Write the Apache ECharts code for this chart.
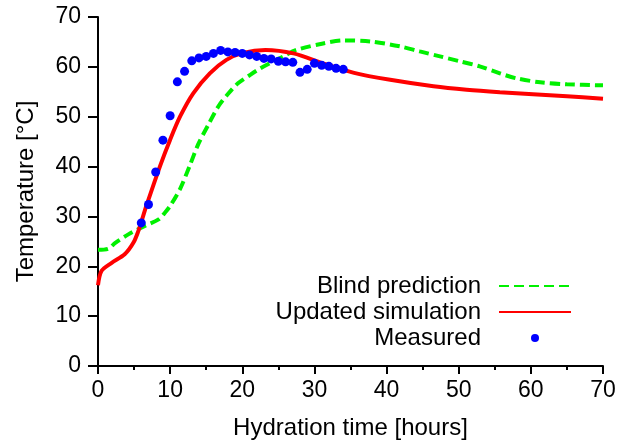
<!DOCTYPE html>
<html><head><meta charset="utf-8">
<script src="https://cdn.jsdelivr.net/npm/echarts@6/dist/echarts.min.js"></script>
<style>html,body{margin:0;padding:0;background:#fff}#c{width:622px;height:445px}</style>
</head><body><div id="c"></div>
<script>
const blindX = [0, 1.4, 2.4, 4.2, 6.5, 8.4, 9.3, 10.0, 11.4, 12.75, 13.9, 15.3, 16.7, 18.1, 19.4, 21.1, 22.5, 23.8, 25.7, 27.5, 31.2, 34, 37.7, 41.9, 44.6, 47.4, 50.2, 52.9, 55.7, 58, 61.3, 65, 70];
const blindY = [23.3, 23.5, 24.7, 26.4, 28.1, 29.4, 30.8, 32.1, 35.6, 40.3, 44.5, 48.4, 52.1, 54.7, 56.7, 58.4, 59.7, 60.7, 62.1, 63.4, 64.7, 65.3, 65.1, 64.1, 63.1, 62.1, 61.1, 60.1, 58.7, 57.7, 56.9, 56.5, 56.3];
const updX = [0, 0.5, 1.9, 3.7, 4.9, 5.6, 6.05, 6.7, 8.6, 10, 11.4, 13.2, 15.5, 17.8, 20.1, 23.2, 27.1, 31.2, 35.5, 40.5, 46.5, 51.1, 55.7, 60.3, 65, 70];
const updY = [16.2, 19.1, 20.7, 22.4, 24.7, 27.1, 29.1, 32.1, 40.1, 45.4, 50.1, 54.7, 58.7, 61.4, 62.8, 63.4, 62.7, 60.7, 58.8, 57.4, 56.1, 55.4, 54.9, 54.5, 54.1, 53.6];
const measX = [6,7,8,9,10,11,12,13,14,15,16,17,18,19,20,21,22,23,24,25,26,27,28,29,30,31,32,33,34];
const measY = [28.7,32.4,38.9,45.3,50.2,57.0,59.1,61.2,61.8,62.1,62.7,63.3,63.0,62.9,62.7,62.4,62.1,61.7,61.6,61.1,61.0,60.9,58.9,59.5,60.7,60.3,60.1,59.7,59.5];
const seriesNames = ['Blind prediction', 'Updated simulation', 'Measured'];
const xTitle = 'Hydration time [hours]';
const yTitle = 'Temperature [°C]';

const zip = (xs, ys) => xs.map((x, i) => [x, ys[i]]);
const font = 'Liberation Sans, Arial, sans-serif';
const green = '#00f000', red = '#ff0000', blue = '#0000ff';
const chart = echarts.init(document.getElementById('c'));
chart.setOption({
  animation: false,
  grid: {left: 98, right: 19, top: 17, bottom: 78},
  legend: {
    orient: 'vertical', align: 'right', right: 50, top: 273, padding: 0,
    itemWidth: 72, itemHeight: 8, itemGap: 0,
    textStyle: {fontFamily: font, fontSize: 24, color: '#000', lineHeight: 26, padding: [0, 13, 0, 0]},
    data: [
      {name: seriesNames[0], itemStyle: {opacity: 0}},
      {name: seriesNames[1], itemStyle: {opacity: 0}},
      {name: seriesNames[2], icon: 'circle'}
    ]
  },
  xAxis: {
    type: 'value', min: 0, max: 70, interval: 10,
    name: xTitle, nameLocation: 'middle', nameGap: 50,
    nameTextStyle: {fontFamily: font, fontSize: 24, color: '#000'},
    axisLine: {lineStyle: {color: '#000', width: 2}},
    axisTick: {show: true, length: 8, lineStyle: {color: '#000', width: 2}},
    minorTick: {show: true, splitNumber: 2, length: 4, lineStyle: {color: '#000', width: 2}},
    axisLabel: {fontFamily: font, fontSize: 23, color: '#000', margin: 13},
    splitLine: {show: false}
  },
  yAxis: {
    type: 'value', min: 0, max: 70, interval: 10,
    name: yTitle, nameLocation: 'middle', nameGap: 60,
    nameTextStyle: {fontFamily: font, fontSize: 24, color: '#000'},
    axisLine: {show: true, lineStyle: {color: '#000', width: 2}},
    axisTick: {show: true, length: 10, lineStyle: {color: '#000', width: 2}},
    axisLabel: {fontFamily: font, fontSize: 23, color: '#000', margin: 17},
    splitLine: {show: false}
  },
  series: [
    {name: seriesNames[0], type: 'line', data: zip(blindX, blindY), smooth: 0.3, symbol: 'none',
      lineStyle: {color: green, width: 4, type: [10, 5]}, itemStyle: {color: green}, z: 2},
    {name: seriesNames[1], type: 'line', data: zip(updX, updY), smooth: 0.3, symbol: 'none',
      lineStyle: {color: red, width: 4}, itemStyle: {color: red}, z: 3},
    {name: seriesNames[2], type: 'scatter', data: zip(measX, measY), symbol: 'circle', symbolSize: 9,
      itemStyle: {color: blue, opacity: 1}, z: 4}
  ]
});
</script></body></html>
